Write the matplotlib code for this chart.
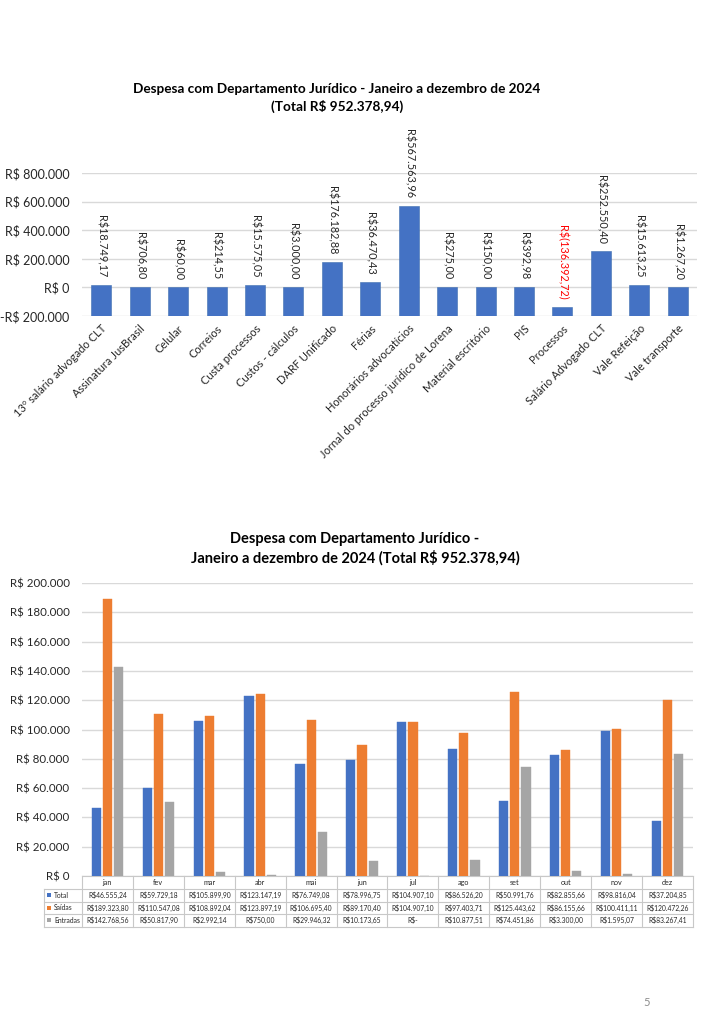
import matplotlib
matplotlib.use("Agg")
import matplotlib.pyplot as plt
from matplotlib.ticker import FuncFormatter, FixedLocator
from matplotlib.transforms import blended_transform_factory
from matplotlib.patches import Rectangle

plt.rcParams['font.family'] = ['Lato', 'DejaVu Sans']

# ---------------- data ----------------
categories = ["13º salário advogado CLT", "Assinatura JusBrasil", "Celular", "Correios",
              "Custa processos", "Custos - cálculos", "DARF Unificado", "Férias",
              "Honorários advocatícios", "Jornal do processo jurídico de Lorena",
              "Material escritório", "PIS", "Processos", "Salário Advogado CLT",
              "Vale Refeição", "Vale transporte"]
values = [18749.17, 706.80, 60.00, 214.55, 15575.05, 3000.00, 176182.88, 36470.43,
          567563.96, 275.00, 150.00, 392.98, -136392.72, 252550.40, 15613.25, 1267.20]

months = ['jan', 'fev', 'mar', 'abr', 'mai', 'jun', 'jul', 'ago', 'set', 'out', 'nov', 'dez']
total = [46555.24, 59729.18, 105899.90, 123147.19, 76749.08, 78996.75, 104907.10,
         86526.20, 50991.76, 82855.66, 98816.04, 37204.85]
saidas = [189323.80, 110547.08, 108892.04, 123897.19, 106695.40, 89170.40, 104907.10,
          97403.71, 125443.62, 86155.66, 100411.11, 120472.26]
entradas = [142768.56, 50817.90, 2992.14, 750.00, 29946.32, 10173.65, 0.0,
            10877.51, 74451.86, 3300.00, 1595.07, 83267.41]
series_names = ['Total', 'Saídas', 'Entradas']

title1 = "Despesa com Departamento Jurídico - Janeiro a dezembro de 2024\n(Total R$ 952.378,94)"
title2 = "Despesa com Departamento Jurídico -\nJaneiro a dezembro de 2024 (Total R$ 952.378,94)"

BLUE, ORANGE, GRAY = '#4472C4', '#ED7D31', '#A5A5A5'
GRID = '#D9D9D9'
TXT = '#262626'


def br_num(v, dec=2):
    s = f"{abs(v):,.{dec}f}"
    return s.replace(',', 'X').replace('.', ',').replace('X', '.')


def money_label(v):
    if v < 0:
        return "R$(" + br_num(v) + ")"
    return "R$" + br_num(v)


def table_label(v):
    if v == 0:
        return "R$-"
    return "R$" + br_num(v)


def axis_fmt(v, pos):
    if v == 0:
        return "R$ 0"
    s = "R$ " + br_num(v, 0)
    return "-" + s if v < 0 else s


W, H = 709, 1024
fig = plt.figure(figsize=(W / 100, H / 100), dpi=100)


def fx(px):
    return px / W


def fy(py):
    return 1 - py / H


# ---------------- top chart ----------------
ax1 = fig.add_axes([fx(82), fy(316), fx(697) - fx(82), fy(173) - fy(316)])
base = -200000
x = list(range(len(categories)))
heights = [v - base for v in values]
ax1.bar(x, heights, bottom=base, width=0.52, color=BLUE, edgecolor='#3F6FB0', linewidth=0.4, zorder=3)
ax1.set_xlim(-0.5, len(categories) - 0.5)
ax1.set_ylim(-200000, 800000)
ax1.yaxis.set_major_locator(FixedLocator([-200000, 0, 200000, 400000, 600000, 800000]))
ax1.yaxis.set_major_formatter(FuncFormatter(axis_fmt))
ax1.grid(axis='y', color=GRID, linewidth=1, zorder=0)
for s in ax1.spines.values():
    s.set_visible(False)
ax1.tick_params(axis='y', length=0, labelsize=9, labelcolor=TXT, pad=9)
ax1.set_xticks(x)
ax1.set_xticklabels(categories, rotation=45, ha='right', va='top', rotation_mode='anchor',
                    fontsize=8, color=TXT)
ax1.tick_params(axis='x', length=0, pad=5)
for xi, v in zip(x, values):
    ax1.annotate(money_label(v), (xi, v), xytext=(0, 5.5), textcoords='offset points',
                 rotation=-90, ha='center', va='bottom', fontsize=7.8,
                 color='#FF0000' if v < 0 else TXT, annotation_clip=False, zorder=4)
fig.text(fx(337), fy(98), title1, ha='center', va='center', fontsize=9.8,
         fontweight='bold', color='black', linespacing=1.45)

# ---------------- bottom chart ----------------
ax2 = fig.add_axes([fx(82), fy(876), fx(693) - fx(82), fy(583) - fy(876)])
xm = list(range(len(months)))
bw = 0.18
off = 0.22
for k, (vals, col) in enumerate(zip([total, saidas, entradas], [BLUE, ORANGE, GRAY])):
    ax2.bar([i + (k - 1) * off for i in xm], vals, width=bw, color=col, zorder=3,
            edgecolor=col, linewidth=0.3)
ax2.set_xlim(-0.5, len(months) - 0.5)
ax2.set_ylim(0, 200000)
ax2.yaxis.set_major_locator(FixedLocator(list(range(0, 200001, 20000))))
ax2.yaxis.set_major_formatter(FuncFormatter(axis_fmt))
ax2.grid(axis='y', color=GRID, linewidth=1, zorder=0)
for s in ax2.spines.values():
    s.set_visible(False)
ax2.tick_params(axis='y', length=0, labelsize=8.3, labelcolor=TXT, pad=9)
ax2.set_xticks([])
fig.text(fx(355), fy(549), title2, ha='center', va='center', fontsize=10.5,
         fontweight='bold', color='black', linespacing=1.35)

# data table below bottom chart
trans = blended_transform_factory(ax2.transData, fig.transFigure)
row_y = [876, 889, 901.5, 914, 926.5]
LINE = '#C8C8C8'
ax2.plot([-0.5, len(months) - 0.5], [fy(876)] * 2, transform=trans, color=LINE, lw=0.8, clip_on=False)
left_col = -0.5 - 38 / (611 / 12)
for yy in row_y[1:]:
    ax2.plot([left_col, len(months) - 0.5], [fy(yy)] * 2, transform=trans, color=LINE, lw=0.8, clip_on=False)
for i in range(len(months) + 1):
    ax2.plot([i - 0.5] * 2, [fy(876), fy(926.5)], transform=trans, color=LINE, lw=0.8, clip_on=False)
ax2.plot([left_col] * 2, [fy(889), fy(926.5)], transform=trans, color=LINE, lw=0.8, clip_on=False)
for i, m in enumerate(months):
    ax2.text(i, fy(882.5), m, transform=trans, ha='center', va='center', fontsize=5.2, color=TXT)
rows = [total, saidas, entradas]
cols = [BLUE, ORANGE, GRAY]
for r, (name, vals, col) in enumerate(zip(series_names, rows, cols)):
    yc = (row_y[r + 1] + row_y[r + 2]) / 2
    fig.add_artist(Rectangle((fx(46.5), fy(yc + 2.0)), fx(4.0), 4.0 / H, transform=fig.transFigure,
                             facecolor=col, edgecolor='none'))
    ax2.text(left_col + 0.2, fy(yc), name, transform=trans, ha='left', va='center', fontsize=4.9, color=TXT)
    for i, v in enumerate(vals):
        ax2.text(i, fy(yc), table_label(v), transform=trans, ha='center', va='center',
                 fontsize=4.9, color=TXT)

fig.text(fx(647), fy(1003), "5", ha='center', va='center', fontsize=8, color='#8C8C8C')

fig.savefig("out.png", dpi=100, facecolor='white')
